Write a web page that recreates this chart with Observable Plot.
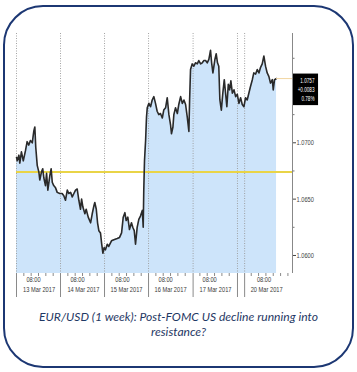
<!DOCTYPE html>
<html><head><meta charset="utf-8">
<script src="https://cdn.jsdelivr.net/npm/d3@7"></script>
<script src="https://cdn.jsdelivr.net/npm/@observablehq/plot@0.6"></script>
<style>
html,body{margin:0;padding:0;background:#fff;}
body{width:357px;height:372px;overflow:hidden;position:relative;}
#frame{position:absolute;left:3px;top:5px;width:351px;height:363px;box-sizing:border-box;border:2px solid #1c3773;border-radius:40px;}
#chart{position:absolute;left:0;top:0;}
#caption{position:absolute;left:0;top:309px;width:357px;text-align:center;font-family:Lato,sans-serif;font-style:italic;font-size:12.1px;line-height:15px;color:#1f3864;}
</style></head><body>
<div id="frame"></div>
<div id="chart"></div>
<div id="caption">EUR/USD (1 week): Post-FOMC US decline running into<br>resistance?</div>
<script>
// time in trading hours since 13 Mar session start (weekend compressed)
const hours = [0.0,0.4,1.3,1.8,2.7,3.7,4.9,5.8,6.7,7.6,8.6,9.4,10.0,
10.5,11.3,12.2,12.7,13.6,14.3,14.9,15.8,16.4,17.1,18.2,18.9,19.5,20.3,21.3,22.2,
23.6,24.9,25.8,26.7,27.7,28.5,29.5,30.4,31.3,32.2,33.1,34.0,
34.9,35.5,36.2,37.3,38.0,39.1,40.4,41.3,42.2,42.7,43.5,44.2,44.9,45.8,
46.4,47.1,47.8,48.5,49.5,50.3,51.8,53.1,54.9,56.2,57.3,
58.2,59.1,59.8,60.7,61.6,62.7,63.4,64.2,64.9,65.8,66.7,67.6,68.6,
69.1,69.4,69.8,70.4,70.9,71.3,
72.2,73.1,74.0,74.9,75.8,76.7,77.6,78.5,79.5,80.3,81.3,82.2,83.1,84.0,84.5,85.3,85.8,86.7,87.7,88.5,89.5,90.4,91.3,92.2,93.1,94.0,94.4,
94.9,95.8,96.7,97.6,98.6,99.4,100.4,101.3,102.2,103.1,104.0,104.9,105.8,106.4,107.1,108.2,108.9,109.6,110.3,
110.9,111.7,112.5,113.3,114.0,114.7,115.5,116.2,116.9,117.7,118.6,119.5,120.4,
121.3,122.2,123.1,124.0,124.9,125.8,126.7,127.6,128.6,129.4,130.4,131.3,132.2,133.1,134.0,134.9,135.8,136.7,137.6,138.5,139.5,140.0,140.7,141.8];
const prices = [1.0687,1.0684,1.0689,1.0682,1.0692,1.0684,1.0693,1.0701,1.0698,1.0702,1.0700,1.0710,1.0714,
1.0696,1.0680,1.0674,1.0667,1.0674,1.0677,1.0669,1.0662,1.0673,1.0658,1.0671,1.0677,1.0665,1.0662,1.0660,1.0656,
1.0655,1.0655,1.0653,1.0649,1.0658,1.0655,1.0656,1.0652,1.0655,1.0658,1.0659,1.0649,
1.0641,1.0650,1.0643,1.0637,1.0641,1.0634,1.0629,1.0637,1.0644,1.0647,1.0641,1.0629,1.0622,1.0620,
1.0611,1.0602,1.0607,1.0605,1.0610,1.0608,1.0613,1.0614,1.0615,1.0616,1.0620,
1.0634,1.0638,1.0631,1.0634,1.0623,1.0629,1.0625,1.0622,1.0610,1.0625,1.0632,1.0635,1.0640,
1.0625,1.0658,1.0684,1.0702,1.0723,1.0731,
1.0735,1.0732,1.0738,1.0741,1.0735,1.0728,1.0725,1.0726,1.0722,1.0729,1.0731,1.0740,1.0725,1.0716,1.0708,1.0714,1.0725,1.0731,1.0726,1.0734,1.0741,1.0735,1.0738,1.0734,1.0723,1.0710,1.0738,
1.0765,1.0770,1.0768,1.0771,1.0770,1.0773,1.0770,1.0771,1.0773,1.0773,1.0771,1.0774,1.0782,1.0771,1.0762,1.0774,1.0779,1.0771,1.0768,
1.0738,1.0729,1.0744,1.0756,1.0744,1.0732,1.0752,1.0747,1.0755,1.0744,1.0747,1.0741,1.0743,
1.0735,1.0740,1.0734,1.0732,1.0740,1.0738,1.0744,1.0750,1.0756,1.0762,1.0761,1.0765,1.0762,1.0767,1.0770,1.0777,1.0768,1.0762,1.0759,1.0753,1.0756,1.0747,1.0756,1.0757];

const refPrice = 1.0674;                 // yellow reference line (start of week)
const dayBoundaries = [0, 24, 48, 72, 96.3, 120.5, 124.4];
const minorTickHours = [4,8,12,16,20,28,32,36,40,44,52,56,60,64,68,76,80,84,88,92,100,104,108,112,116,128,132,136,140,144,148];
const hourLabel = "08:00";
const hourLabelPos = [9.3, 33.3, 57.8, 81.3, 105.3, 135.0];
const dateLabels = ["13 Mar 2017","14 Mar 2017","15 Mar 2017","16 Mar 2017","17 Mar 2017","20 Mar 2017"];
const dateLabelPos = [12.3, 36.5, 60.0, 84.0, 108.5, 136.4];
const yLabelTicks = [1.0600, 1.0650, 1.0700];
const yHiddenTicks = [1.0750];           // covered by the price box in the reference
const yMinorTicks = [1.0625, 1.0675, 1.0725, 1.0775];
const xMax = 150.5;
const yDomain = [1.0584, 1.0797];

const data = hours.map((h, i) => ({h, p: prices[i]}));
const last = data[data.length - 1];
const change = last.p - refPrice;
const boxText = [
  last.p.toFixed(4),
  (change >= 0 ? "+" : "-") + Math.abs(change).toFixed(4),
  (100 * change / refPrice).toFixed(2) + "%"
].join("\n");

const font = "'Liberation Sans',Arial,sans-serif";

const chart = Plot.plot({
  width: 357, height: 300,
  marginLeft: 16, marginRight: 65, marginTop: 33, marginBottom: 27,
  x: {domain: [0, xMax], axis: null, label: null},
  y: {domain: yDomain, axis: null, label: null},
  style: {fontFamily: font, fontSize: "7.5px", color: "#444", background: "transparent", overflow: "visible"},
  marks: [
    Plot.areaY(data, {x: "h", y1: yDomain[0], y2: "p", fill: "#cde4fa"}),
    Plot.ruleX(dayBoundaries, {stroke: "#9a9a9a", strokeDasharray: "1,1.5", strokeWidth: 0.9}),
    Plot.ruleY([refPrice], {stroke: "#e9d447", strokeWidth: 2}),
    Plot.lineY(data, {x: "h", y: "p", stroke: "#2a2a2a", strokeWidth: 1.6}),
    Plot.ruleY([last.p], {x1: last.h, x2: xMax, stroke: "#f2d6a2", strokeWidth: 1}),
    Plot.axisX({ticks: dayBoundaries, tickSize: 24, tickFormat: () => "", label: null, stroke: "#8a8a8a"}),
    Plot.axisX({ticks: minorTickHours, tickSize: 3, tickFormat: () => "", label: null, stroke: "#8a8a8a"}),
    Plot.text(hourLabelPos, {x: d => d, frameAnchor: "bottom", dy: 8, text: () => hourLabel, fill: "#3a3a3a", fontSize: 7.5, className: "cond"}),
    Plot.text(dateLabels, {x: (d, i) => dateLabelPos[i], frameAnchor: "bottom", dy: 18, text: d => d, fill: "#3a3a3a", fontSize: 7.5, className: "cond"}),
    Plot.ruleX([xMax], {stroke: "#888", strokeWidth: 1}),
    Plot.axisY({anchor: "right", ticks: yLabelTicks, tickSize: 3, tickPadding: 1, tickFormat: d => d.toFixed(4), label: null, stroke: "#444", fill: "#444", className: "cond"}),
    Plot.axisY({anchor: "right", ticks: yHiddenTicks, tickSize: 3, tickFormat: () => "", label: null, stroke: "#444"}),
    Plot.axisY({anchor: "right", ticks: yMinorTicks, tickSize: 1.5, tickFormat: () => "", label: null, stroke: "#777"}),
    Plot.rect([last], {x1: xMax, x2: xMax + 14.2, y1: d => d.p - 0.0024, y2: d => d.p + 0.0004, fill: "#000", insetLeft: 1}),
    Plot.text([last], {x: xMax, y: "p", dx: 22, dy: -2, textAnchor: "end", lineAnchor: "top", lineHeight: 1.3, text: () => boxText, fill: "#fff", fontSize: 7, className: "boxtxt"})
  ]
});
document.getElementById("chart").appendChild(chart);

// condense the small Bloomberg-style labels (narrow font look)
function condense(selector, factor) {
  chart.querySelectorAll(selector).forEach(t => {
    const parts = t.querySelectorAll("tspan");
    (parts.length ? Array.from(parts) : [t]).forEach(el => {
      const w = el.getComputedTextLength();
      if (w > 0) { el.setAttribute("textLength", (w * factor).toFixed(2)); el.setAttribute("lengthAdjust", "spacingAndGlyphs"); }
    });
  });
}
condense(".cond text", 0.76);
condense(".boxtxt text", 0.66);
</script>
</body></html>
